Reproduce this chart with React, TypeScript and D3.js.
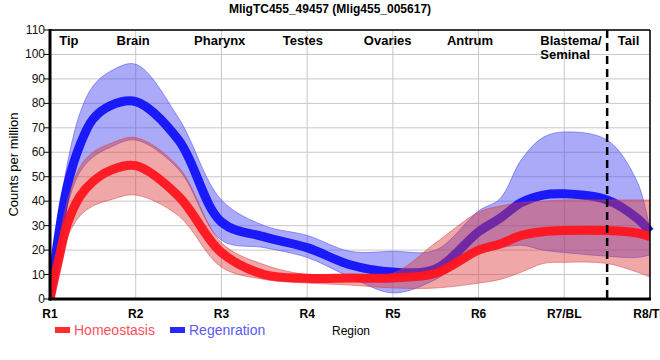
import * as d3 from 'd3';

// region ticks along the bottom
const regions = ['R1', 'R2', 'R3', 'R4', 'R5', 'R6', 'R7/BL', 'R8/TL'];
const yTicks = [0, 10, 20, 30, 40, 50, 60, 70, 80, 90, 100, 110];

// positions (in region units) where the curves were sampled
const samplePos = [0, 0.1, 0.2, 0.35, 0.5, 0.7, 1, 1.5, 2, 2.5, 3, 3.5, 4, 4.5, 5, 5.25, 5.5, 5.75, 6, 6.5, 6.85, 7];

const homeoMean = [0, 16, 30.5, 42, 48, 52.5, 54.5, 42, 19, 10, 8.5, 8.6, 8.6, 10.5, 20, 22.5, 26, 27.5, 28, 28, 27, 25.5];
const homeoHi = [0, 22, 40, 54, 60, 63.5, 66, 54, 23, 14, 10, 10, 10.5, 23, 35.5, 38, 39.5, 40, 40.5, 40.5, 40.5, 40.5];
const homeoLo = [0, 12, 25, 34, 38, 40.5, 42.5, 34, 13, 8, 6.5, 5.7, 4.5, 4.5, 6.5, 8, 11, 14.5, 15, 14.5, 11, 9];

const regenMean = [0, 26, 46, 63, 73.5, 79, 80.7, 65, 31.5, 25.4, 21, 14, 11, 12.3, 27.5, 33, 39.5, 42.5, 43, 40.5, 33, 27.5];
const regenHi = [0, 32, 55, 76, 87, 93, 96, 74, 40.5, 30, 26, 19.5, 19.5, 20, 36, 41, 57, 66, 68.3, 65, 48, 28];
const regenLo = [0, 20, 38, 52, 58, 62, 65, 53, 24, 21, 17, 9, 2.5, 8, 20, 21, 22, 20, 19, 17.5, 17, 18];

// top annotations: label and position in region units
const bodyParts = [
  { label: 'Tip', pos: 0.22, anchor: 'middle' },
  { label: 'Brain', pos: 0.97, anchor: 'middle' },
  { label: 'Pharynx', pos: 1.98, anchor: 'middle' },
  { label: 'Testes', pos: 2.95, anchor: 'middle' },
  { label: 'Ovaries', pos: 3.94, anchor: 'middle' },
  { label: 'Antrum', pos: 4.9, anchor: 'middle' },
  { label: 'Blastema/', pos: 5.72, anchor: 'start' },
  { label: 'Tail', pos: 6.75, anchor: 'middle' },
];

const width = 660;
const height = 360;
const margin = { top: 30, right: 10, bottom: 61, left: 50 };

type Pt = { pos: number; v: number; lo: number; hi: number };

function series(mean: number[], lo: number[], hi: number[]): Pt[] {
  return samplePos.map((p, i) => ({ pos: p, v: mean[i], lo: lo[i], hi: hi[i] }));
}

export default function App() {
  const x = d3.scaleLinear().domain([0, 7]).range([margin.left, width - margin.right]);
  const y = d3.scaleLinear().domain([0, 110]).range([height - margin.bottom, margin.top]);

  const homeo = series(homeoMean, homeoLo, homeoHi);
  const regen = series(regenMean, regenLo, regenHi);

  const curve = d3.curveCatmullRom.alpha(0.5);
  const band = d3
    .area<Pt>()
    .x(d => x(d.pos))
    .y0(d => y(d.lo))
    .y1(d => y(d.hi))
    .curve(curve);
  const line = d3
    .line<Pt>()
    .x(d => x(d.pos))
    .y(d => y(d.v))
    .curve(curve);

  const x0 = x(0);
  const x1 = x(7);
  const y0 = y(0);
  const y1 = y(110);
  const font = 'Liberation Sans, Arial, sans-serif';

  return (
    <svg
      width={width}
      height={height}
      style={{ position: 'absolute', left: 0, top: 0, overflow: 'hidden' }}
      fontFamily={font}
    >
      <defs>
        <clipPath id="plot">
          <rect x={x0} y={y1} width={x1 - x0} height={y0 - y1 + 6} />
        </clipPath>
        <clipPath id="plotLine">
          <rect x={x0} y={y1} width={x1 - x0 + 6} height={y0 - y1 + 6} />
        </clipPath>
      </defs>
      <rect width={width} height={height} fill="#fff" />

      {/* title */}
      <text x={330} y={13} textAnchor="middle" fontSize={12} fontWeight="bold">
        MligTC455_49457 (Mlig455_005617)
      </text>

      {/* grid */}
      {yTicks.map(t => (
        <line key={'h' + t} x1={x0} x2={x1} y1={y(t)} y2={y(t)} stroke="#c8c8c8" strokeWidth={1} />
      ))}
      {regions.map((r, i) => (
        <line key={'v' + r} x1={x(i)} x2={x(i)} y1={y1} y2={y0} stroke="#c8c8c8" strokeWidth={1} />
      ))}

      {/* data: blue band + line, then red band over it, red line on top */}
      <path
        d={band(regen) ?? ''}
        clipPath="url(#plot)"
        fill="rgba(75,75,240,0.47)"
        stroke="rgba(75,75,240,0.55)"
        strokeWidth={1}
      />
      <path d={line(regen) ?? ''} clipPath="url(#plotLine)" fill="none" stroke="rgb(25,25,250)" strokeWidth={9} />
      <path
        d={band(homeo) ?? ''}
        clipPath="url(#plot)"
        fill="rgba(220,60,60,0.45)"
        stroke="rgba(220,60,60,0.5)"
        strokeWidth={1}
      />
      <path d={line(homeo) ?? ''} clipPath="url(#plot)" fill="none" stroke="rgba(255,20,30,0.95)" strokeWidth={9} />

      {/* body part labels */}
      {bodyParts.map(b => (
        <text key={b.label} x={x(b.pos)} y={45} textAnchor={b.anchor} fontSize={13} fontWeight="bold">
          {b.label}
        </text>
      ))}
      <text x={x(5.72)} y={59} fontSize={13} fontWeight="bold">
        Seminal
      </text>

      {/* dashed divider */}
      <line x1={x(6.5)} x2={x(6.5)} y1={y1} y2={y0} stroke="#000" strokeWidth={2.5} strokeDasharray="8,5" />

      {/* frame */}
      <line x1={x0} x2={x1} y1={y1} y2={y1} stroke="#000" strokeWidth={1.5} />
      <line x1={x1} x2={x1} y1={y1} y2={y0} stroke="#000" strokeWidth={1.5} />
      <line x1={x0} x2={x0} y1={y1 - 1} y2={y0 + 1.5} stroke="#000" strokeWidth={3} />
      <line x1={x0 - 1.5} x2={x1 + 1} y1={y0} y2={y0} stroke="#000" strokeWidth={3} />

      {/* y axis */}
      {yTicks.map(t => (
        <g key={'yt' + t}>
          <line x1={x0 - 6} x2={x0} y1={y(t)} y2={y(t)} stroke="#000" strokeWidth={1} />
          <text x={x0 - 5} y={y(t) + 4} textAnchor="end" fontSize={12} fill="#111">
            {t}
          </text>
        </g>
      ))}
      <text
        transform={`translate(18,${(y0 + y1) / 2}) rotate(-90)`}
        textAnchor="middle"
        fontSize={13}
      >
        Counts per million
      </text>

      {/* x axis */}
      {regions.map((r, i) => (
        <text key={'xt' + r} x={x(i)} y={318} textAnchor="middle" fontSize={12} fontWeight="bold">
          {r}
        </text>
      ))}
      <text x={332} y={335} fontSize={12}>
        Region
      </text>

      {/* legend */}
      <rect x={55} y={327} width={15} height={6} fill="rgb(255,45,45)" />
      <text x={74} y={335} fontSize={14} fill="rgb(255,80,90)">
        Homeostasis
      </text>
      <rect x={170} y={327} width={15} height={6} fill="rgb(40,40,250)" />
      <text x={189} y={335} fontSize={14} fill="rgb(90,90,250)">
        Regenration
      </text>
    </svg>
  );
}
